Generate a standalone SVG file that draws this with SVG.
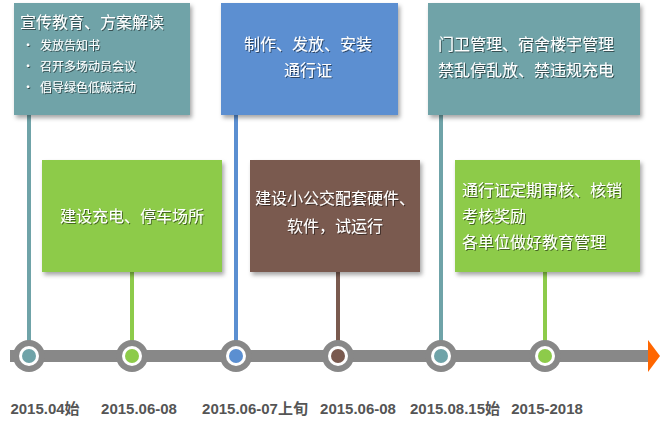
<svg xmlns="http://www.w3.org/2000/svg" width="660" height="440" viewBox="0 0 660 440">
<defs>
<filter id="sh" x="-5%" y="-5%" width="115%" height="120%"><feDropShadow dx="2" dy="3" stdDeviation="2" flood-color="#000" flood-opacity="0.35"/></filter>
<filter id="ts"><feDropShadow dx="1" dy="1" stdDeviation="0.5" flood-color="#000" flood-opacity="0.5"/></filter>
</defs>
<style>
.t{font-family:"Noto Sans CJK SC",sans-serif;fill:#fff;font-size:16px;filter:url(#ts)}
.s{font-size:12px}
.d{font-family:"Liberation Sans","Noto Sans CJK SC",sans-serif;font-weight:bold;fill:#555;font-size:15px;text-anchor:middle}
.ring{fill:#888}
</style>
<rect width="660" height="440" fill="#fff"/>
<g id="connectors">
<rect x="10" y="350" width="640" height="12" fill="#888"/>
<polygon points="648,340 660,356 648,372" fill="#f60"/>
<line x1="29" y1="115" x2="29" y2="356" stroke="#6FA3A8" stroke-width="4"/>
<line x1="132" y1="270" x2="132" y2="356" stroke="#8DCB4A" stroke-width="4"/>
<line x1="236" y1="115" x2="236" y2="356" stroke="#5B8FD1" stroke-width="4"/>
<line x1="338" y1="270" x2="338" y2="356" stroke="#7A5A4F" stroke-width="4"/>
<line x1="441" y1="115" x2="441" y2="356" stroke="#6FA3A8" stroke-width="4"/>
<line x1="545" y1="270" x2="545" y2="356" stroke="#8DCB4A" stroke-width="4"/>
</g>
<g id="dots">
<g><circle cx="29" cy="356" r="16" class="ring"/><circle cx="29" cy="356" r="10" fill="#fff"/><circle cx="29" cy="356" r="7" fill="#6FA3A8"/></g>
<g><circle cx="132" cy="356" r="16" class="ring"/><circle cx="132" cy="356" r="10" fill="#fff"/><circle cx="132" cy="356" r="7" fill="#8DCB4A"/></g>
<g><circle cx="236" cy="356" r="16" class="ring"/><circle cx="236" cy="356" r="10" fill="#fff"/><circle cx="236" cy="356" r="7" fill="#5B8FD1"/></g>
<g><circle cx="338" cy="356" r="16" class="ring"/><circle cx="338" cy="356" r="10" fill="#fff"/><circle cx="338" cy="356" r="7" fill="#7A5A4F"/></g>
<g><circle cx="441" cy="356" r="16" class="ring"/><circle cx="441" cy="356" r="10" fill="#fff"/><circle cx="441" cy="356" r="7" fill="#6FA3A8"/></g>
<g><circle cx="545" cy="356" r="16" class="ring"/><circle cx="545" cy="356" r="10" fill="#fff"/><circle cx="545" cy="356" r="7" fill="#8DCB4A"/></g>
</g>
<g id="n1"><rect x="14" y="3" width="176" height="112" fill="#6FA3A8" filter="url(#sh)"/>
<text class="t" x="20" y="28" font-size="17">宣传教育、方案解读</text>
<text class="t s" x="22" y="50">•</text><text class="t s" x="40" y="50">发放告知书</text>
<text class="t s" x="22" y="71">•</text><text class="t s" x="40" y="71">召开多场动员会议</text>
<text class="t s" x="22" y="92">•</text><text class="t s" x="40" y="92">倡导绿色低碳活动</text></g>
<g id="n2"><rect x="42" y="160" width="180" height="112" fill="#8DCB4A" filter="url(#sh)"/>
<text class="t" x="132" y="222" text-anchor="middle">建设充电、停车场所</text></g>
<g id="n3"><rect x="221" y="3" width="177" height="112" fill="#5B8FD1" filter="url(#sh)"/>
<text class="t" x="308" y="50" text-anchor="middle">制作、发放、安装</text>
<text class="t" x="308" y="76" text-anchor="middle">通行证</text></g>
<g id="n4"><rect x="250" y="160" width="170" height="112" fill="#7A5A4F" filter="url(#sh)"/>
<text class="t" x="335" y="204" text-anchor="middle">建设小公交配套硬件、</text>
<text class="t" x="335" y="232" text-anchor="middle">软件，试运行</text></g>
<g id="n5"><rect x="428" y="3" width="212" height="112" fill="#6FA3A8" filter="url(#sh)"/>
<text class="t" x="438" y="50">门卫管理、宿舍楼宇管理</text>
<text class="t" x="438" y="76">禁乱停乱放、禁违规充电</text></g>
<g id="n6"><rect x="455" y="160" width="185" height="112" fill="#8DCB4A" filter="url(#sh)"/>
<text class="t" x="462" y="196">通行证定期审核、核销</text>
<text class="t" x="462" y="222">考核奖励</text>
<text class="t" x="462" y="248">各单位做好教育管理</text></g>
<g id="labels">
<text class="d" x="45" y="414">2015.04始</text>
<text class="d" x="139" y="414">2015.06-08</text>
<text class="d" x="255" y="414">2015.06-07上旬</text>
<text class="d" x="358" y="414">2015.06-08</text>
<text class="d" x="455" y="414">2015.08.15始</text>
<text class="d" x="547" y="414">2015-2018</text>
</g>
</svg>
